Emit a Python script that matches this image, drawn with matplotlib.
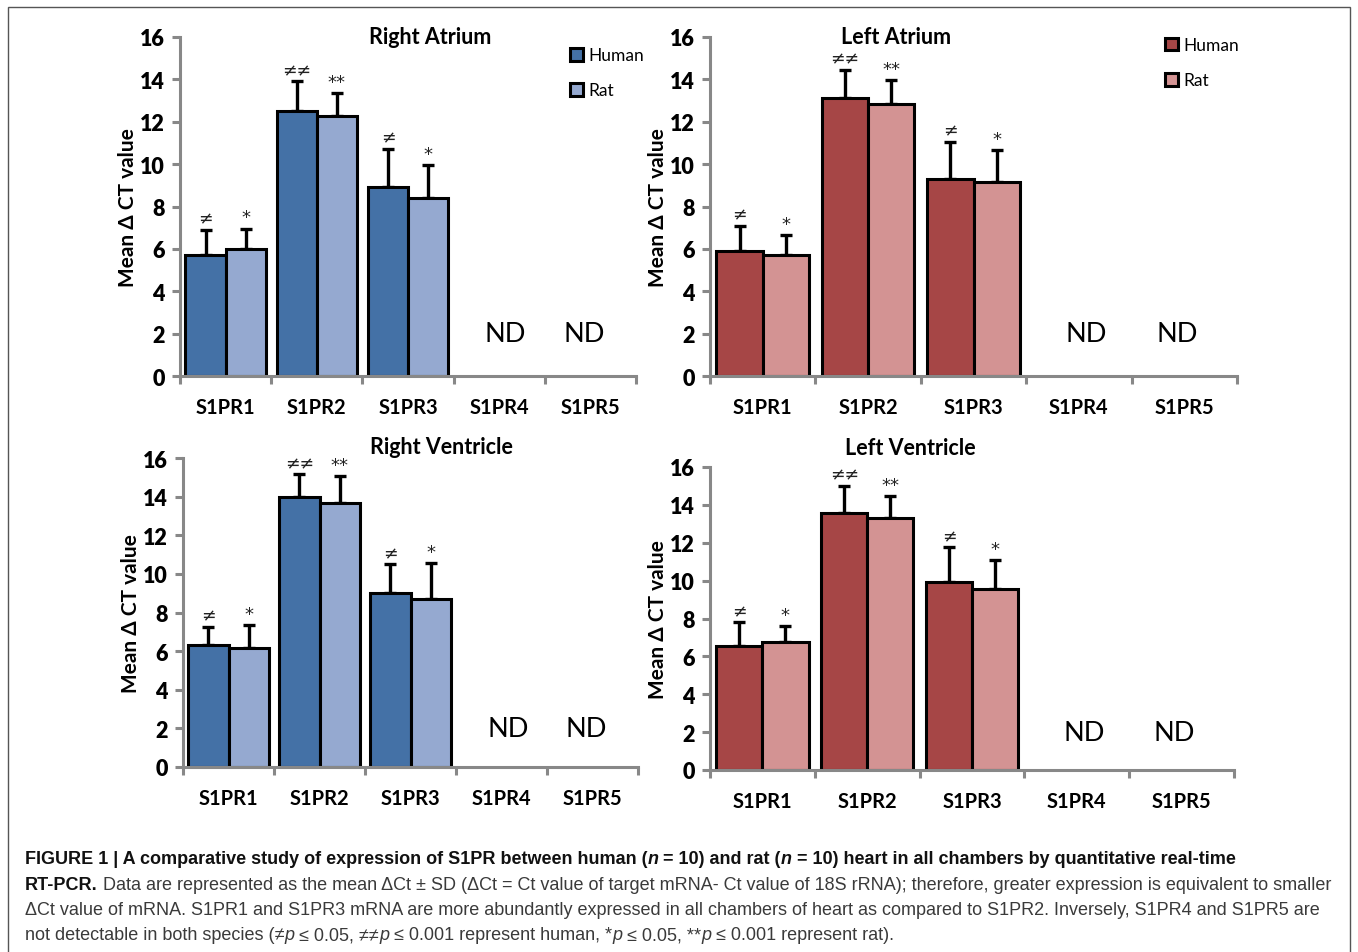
import matplotlib
matplotlib.use('Agg')
import numpy as np
import matplotlib.pyplot as plt
from matplotlib.patches import Rectangle

plt.rcParams['font.family'] = ['Lato', 'DejaVu Sans']

receptors = ['S1PR1', 'S1PR2', 'S1PR3', 'S1PR4', 'S1PR5']
detected = 3  # S1PR4 / S1PR5 not detected

# Right atrium
ra_human = [5.7, 12.5, 8.9]
ra_human_sd = [1.2, 1.4, 1.8]
ra_rat = [6.0, 12.25, 8.4]
ra_rat_sd = [0.95, 1.1, 1.55]
# Left atrium
la_human = [5.9, 13.1, 9.3]
la_human_sd = [1.2, 1.35, 1.75]
la_rat = [5.7, 12.85, 9.15]
la_rat_sd = [0.95, 1.1, 1.5]
# Right ventricle
rv_human = [6.3, 14.0, 9.0]
rv_human_sd = [0.95, 1.15, 1.5]
rv_rat = [6.15, 13.65, 8.7]
rv_rat_sd = [1.2, 1.4, 1.85]
# Left ventricle
lv_human = [6.55, 13.55, 9.95]
lv_human_sd = [1.25, 1.45, 1.8]
lv_rat = [6.75, 13.3, 9.55]
lv_rat_sd = [0.85, 1.15, 1.55]

human_marks = ['≠', '≠≠', '≠']
rat_marks = ['*', '**', '*']

W, H = 1358, 953
fig = plt.figure(figsize=(W / 100, H / 100), dpi=100)
fig.patches.append(Rectangle((8 / W, -0.01), (1350 - 8) / W, 1 - 8 / H + 0.01,
                             transform=fig.transFigure, fill=False,
                             edgecolor='#555555', lw=1.0))


def px_axes(x0, y0, x1, y1):
    return fig.add_axes([x0 / W, 1 - y1 / H, (x1 - x0) / W, (y1 - y0) / H])


def panel(ax, title, tpos, human, hsd, rat, rsd, c_h, c_r, legend=None):
    x = np.arange(detected)
    w = 0.44
    b1 = ax.bar(x - w / 2, human, w, color=c_h, edgecolor='black', lw=2.2, zorder=2)
    b2 = ax.bar(x + w / 2, rat, w, color=c_r, edgecolor='black', lw=2.2, zorder=2)
    for xs, v, sd in [(x - w / 2, human, hsd), (x + w / 2, rat, rsd)]:
        ax.errorbar(xs, v, yerr=[np.zeros(len(v)), sd], fmt='none', ecolor='black',
                    elinewidth=2.4, capsize=4.5, capthick=2.4, zorder=1)
    for i in range(detected):
        ax.text(x[i] - w / 2, human[i] + hsd[i] + 0.12, human_marks[i], ha='center',
                va='bottom', fontsize=12.5, family='DejaVu Sans', color='#222222')
        ax.text(x[i] + w / 2, rat[i] + rsd[i] + 0.12, rat_marks[i], ha='center',
                va='bottom', fontsize=13, family='DejaVu Sans', color='#222222')
    for xi in [3.07, 3.93]:
        ax.text(xi, 2, 'ND', ha='center', va='center', fontsize=19.5)
    ax.set_xlim(-0.5, 4.5)
    ax.set_ylim(0, 16)
    ax.set_yticks(range(0, 17, 2))
    ax.set_xticks(range(5))
    ax.set_xticklabels(receptors, fontweight='bold', fontsize=14.5)
    ax.set_xticks(np.arange(-0.5, 5, 1), minor=True)
    ax.tick_params(axis='x', which='major', length=0, pad=15)
    ax.tick_params(axis='x', which='minor', length=6, width=2.2, color='#888888')
    ax.tick_params(axis='y', length=6, width=2.2, color='#888888', labelsize=15.5, pad=5)
    for t in ax.get_yticklabels():
        t.set_fontweight('heavy')
    for s in ['top', 'right']:
        ax.spines[s].set_visible(False)
    for s in ['left', 'bottom']:
        ax.spines[s].set_color('#888888')
        ax.spines[s].set_linewidth(2.2)
    ax.set_ylabel('Mean Δ CT value', fontweight='bold', fontsize=15, labelpad=1)
    ax.text(tpos[0], tpos[1], title, transform=ax.transAxes, ha='center',
            va='center', fontweight='bold', fontsize=15.5)
    if legend is not None:
        ax.legend([b1, b2], ['Human', 'Rat'], loc='upper left', bbox_to_anchor=legend,
                  frameon=False, fontsize=12.5, handlelength=0.75, handleheight=0.75,
                  handletextpad=0.3, labelspacing=1.1, borderaxespad=0)


blue_h, blue_r = '#4471a6', '#95a9d0'
red_h, red_r = '#a64646', '#d39393'

ax1 = px_axes(180, 38, 636, 377)
panel(ax1, 'Right Atrium', (0.548, 1.0), ra_human, ra_human_sd, ra_rat, ra_rat_sd,
      blue_h, blue_r, legend=(0.84, 0.99))
ax2 = px_axes(710, 38, 1237, 377)
panel(ax2, 'Left Atrium', (0.353, 1.0), la_human, la_human_sd, la_rat, la_rat_sd,
      red_h, red_r, legend=(0.85, 1.02))
ax3 = px_axes(183, 459, 638, 768)
panel(ax3, 'Right Ventricle', (0.567, 1.036), rv_human, rv_human_sd, rv_rat, rv_rat_sd,
      blue_h, blue_r)
ax4 = px_axes(710, 468, 1234, 771)
panel(ax4, 'Left Ventricle', (0.382, 1.066), lv_human, lv_human_sd, lv_rat, lv_rat_sd,
      red_h, red_r)

# caption, built from runs of differently styled text
cap_lines = [
    [('FIGURE 1 | A comparative study of expression of S1PR between human (', 'bold', 'normal'),
     ('n', 'bold', 'italic'), (' = 10) and rat (', 'bold', 'normal'), ('n', 'bold', 'italic'),
     (' = 10) heart in all chambers by quantitative real-time', 'bold', 'normal')],
    [('RT-PCR.', 'bold', 'normal'),
     (' Data are represented as the mean ΔCt ± SD (ΔCt = Ct value of target mRNA- Ct value of 18S rRNA); '
      'therefore, greater expression is equivalent to smaller', 'normal', 'normal')],
    [('ΔCt value of mRNA. S1PR1 and S1PR3 mRNA are more abundantly expressed in all chambers of heart '
      'as compared to S1PR2. Inversely, S1PR4 and S1PR5 are', 'normal', 'normal')],
    [('not detectable in both species (≠', 'normal', 'normal'), ('p', 'normal', 'italic'),
     (' ≤ 0.05, ≠≠', 'normal', 'normal'), ('p', 'normal', 'italic'),
     (' ≤ 0.001 represent human, *', 'normal', 'normal'), ('p', 'normal', 'italic'),
     (' ≤ 0.05, **', 'normal', 'normal'), ('p', 'normal', 'italic'),
     (' ≤ 0.001 represent rat).', 'normal', 'normal')],
]
cap_y = [860, 886, 911, 936]
fig.canvas.draw()
r = fig.canvas.get_renderer()
for runs, yp in zip(cap_lines, cap_y):
    xp = 25
    for txt, wt, st in runs:
        t = fig.text(xp / W, 1 - yp / H, txt, fontsize=13.0, fontweight=wt, fontstyle=st,
                     family=['Liberation Sans', 'DejaVu Sans'], va='center', ha='left',
                     color='#111111' if wt == 'bold' else '#3a3a3a')
        bb = t.get_window_extent(renderer=r)
        xp += bb.width

fig.savefig('out.png', dpi=100)
